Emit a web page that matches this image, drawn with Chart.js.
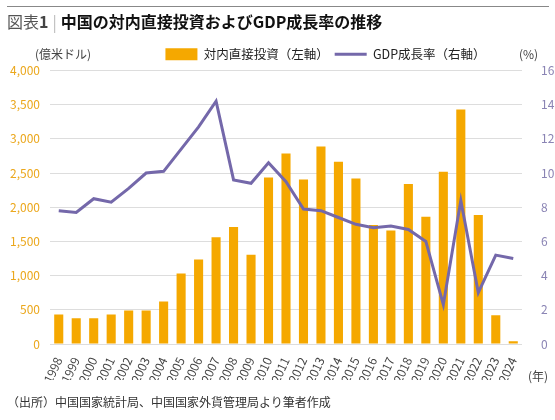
<!DOCTYPE html>
<html lang="ja">
<head>
<meta charset="utf-8">
<script src="https://cdn.jsdelivr.net/npm/chart.js@4"></script>
<style>
  html, body { margin: 0; padding: 0; background: #fff; }
  body { width: 555px; height: 420px; position: relative; overflow: hidden;
         font-family: "Noto Sans CJK JP", "Noto Sans", sans-serif; }
  #wrap { position: absolute; left: 0; top: 0; width: 555px; height: 420px; }
  .topline { position: absolute; left: 7px; top: 6px; width: 542px; height: 1px; background: #888; }
  .title { position: absolute; left: 7px; top: 9px; font-size: 16px; color: #111; font-weight: bold; white-space: nowrap; }
  .title .fig { color: #555; font-weight: normal; }
  .title .num { color: #444; font-weight: bold; }
  .title .sep { color: #bbb; font-weight: normal; margin: 0 4px; }
  .unit { position: absolute; top: 45px; font-size: 12px; color: #444; }
  .year { position: absolute; left: 528px; top: 367px; font-size: 12px; color: #444; }
  .src { position: absolute; left: 7px; top: 393px; font-size: 12px; color: #333; white-space: nowrap; }
</style>
</head>
<body>
<div id="wrap"><canvas id="grafico" width="555" height="420"></canvas></div>
<div class="topline"></div>
<div class="title"><span class="fig">図表</span><span class="num">1</span><span class="sep">|</span>中国の対内直接投資およびGDP成長率の推移</div>
<div class="unit" style="left:35px">(億米ドル)</div>
<div class="unit" style="left:519px">(%)</div>
<div class="year">(年)</div>
<div class="src">（出所）中国国家統計局、中国国家外貨管理局より筆者作成</div>
<script>
const anos = ['1998','1999','2000','2001','2002','2003','2004','2005','2006','2007','2008','2009','2010',
  '2011','2012','2013','2014','2015','2016','2017','2018','2019','2020','2021','2022','2023','2024'];
// 対内直接投資 (億米ドル)
const investimento = [430, 375, 375, 430, 490, 490, 620, 1030, 1235, 1560, 1710, 1305, 2435,
  2785, 2405, 2890, 2665, 2420, 1740, 1660, 2340, 1860, 2520, 3430, 1885, 420, 40];
// GDP成長率 (%)
const pib = [7.8, 7.7, 8.5, 8.3, 9.1, 10.0, 10.1, 11.4, 12.7, 14.2, 9.6, 9.4, 10.6,
  9.5, 7.9, 7.8, 7.4, 7.0, 6.8, 6.9, 6.7, 6.0, 2.3, 8.4, 3.0, 5.2, 5.0];
const ticksEsq = [0, 500, 1000, 1500, 2000, 2500, 3000, 3500, 4000];
const ticksDir = [0, 2, 4, 6, 8, 10, 12, 14, 16];

const laranja = '#f5a800';
const roxo = '#7468aa';
const fonte = '"Noto Sans CJK JP", "Noto Sans", sans-serif';

// empurra a legenda um pouco para a direita, como no original
const moverLegenda = {
  id: 'moverLegenda',
  afterLayout(chart) {
    chart.legend.left += 48;
    chart.legend.right += 48;
  }
};

new Chart(document.getElementById('grafico'), {
  data: {
    labels: anos,
    datasets: [
      {
        type: 'line',
        label: 'GDP成長率（右軸）',
        data: pib,
        yAxisID: 'y2',
        borderColor: roxo,
        backgroundColor: roxo,
        borderWidth: 3,
        pointRadius: 0,
        pointStyle: 'line',
        tension: 0,
        order: 0
      },
      {
        type: 'bar',
        label: '対内直接投資（左軸）',
        data: investimento,
        yAxisID: 'y',
        backgroundColor: laranja,
        pointStyle: 'rect',
        barPercentage: 0.52,
        categoryPercentage: 1,
        order: 1
      }
    ]
  },
  options: {
    responsive: false,
    animation: false,
    layout: { padding: { top: 42, bottom: 40, left: 0, right: 0 } },
    plugins: {
      legend: {
        reverse: true,
        labels: {
          usePointStyle: true,
          pointStyleWidth: 32,
          boxHeight: 12,
          padding: 6,
          color: '#222',
          font: { family: fonte, size: 12.5 }
        }
      },
      tooltip: { enabled: false }
    },
    scales: {
      x: {
        grid: { display: false },
        border: { display: false },
        ticks: {
          minRotation: 65, maxRotation: 65, autoSkip: false,
          color: '#444', padding: 3,
          font: { family: fonte, size: 12 }
        },
        afterFit: s => { s.height = 36; }
      },
      y: {
        position: 'left',
        min: 0, max: 4000,
        afterBuildTicks: s => { s.ticks = ticksEsq.map(v => ({ value: v })); },
        grid: { color: '#dddddd', drawTicks: false },
        border: { display: false },
        ticks: {
          color: '#eba71c', padding: 10,
          font: { family: fonte, size: 12 },
          callback: v => v.toLocaleString('en-US')
        },
        afterFit: s => { s.width = 50; }
      },
      y2: {
        position: 'right',
        min: 0, max: 16,
        afterBuildTicks: s => { s.ticks = ticksDir.map(v => ({ value: v })); },
        grid: { display: false },
        border: { display: false },
        ticks: {
          color: '#8a84b4', padding: 11,
          font: { family: fonte, size: 12 }
        },
        afterFit: s => { s.width = 33; }
      }
    }
  },
  plugins: [moverLegenda]
});
</script>
</body>
</html>
